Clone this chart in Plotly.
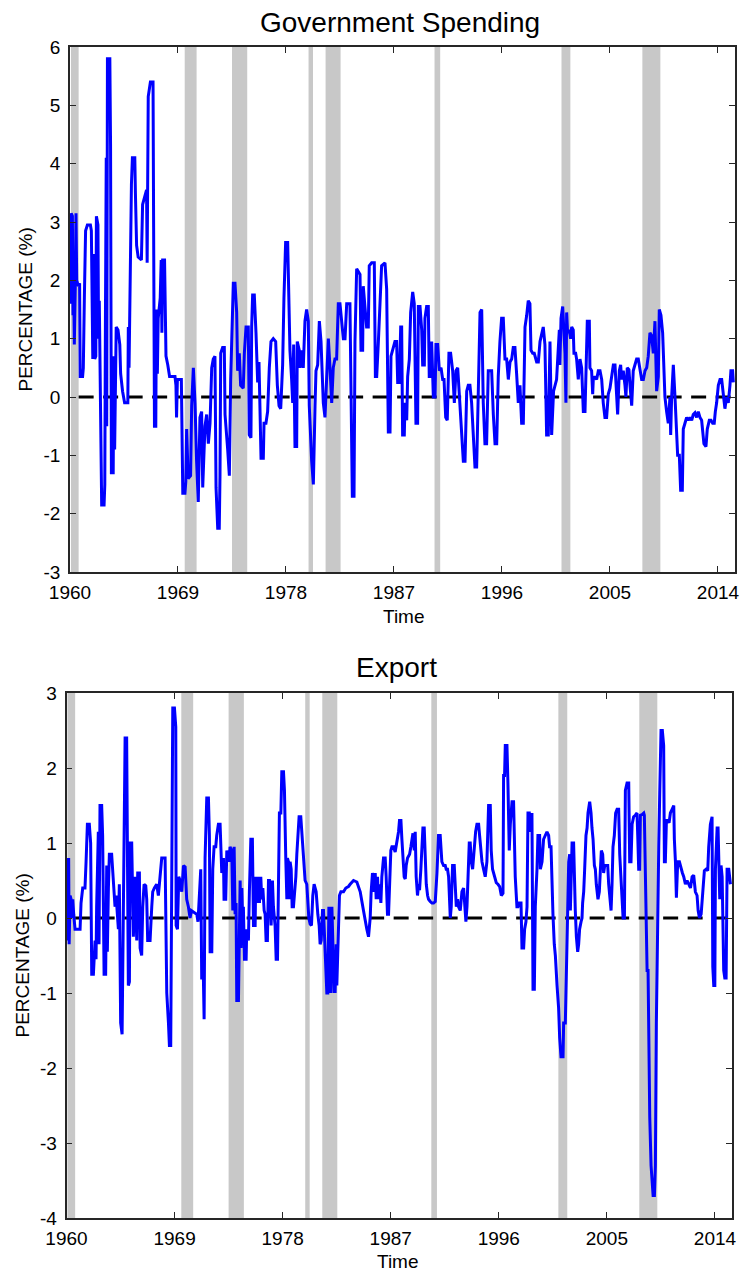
import plotly.graph_objects as go

# ---------------- data ----------------
gov_years = [1960.08,1960.10,1960.20,1960.25,1960.30,1960.36,1960.44,1960.50,1960.56,1960.70,1960.80,1960.85,1961.05,1961.11,1961.20,1961.30,1961.45,1961.70,1961.78,1961.82,1961.90,1962.00,1962.06,1962.15,1962.20,1962.33,1962.38,1962.44,1962.50,1962.57,1962.64,1962.84,1962.90,1962.95,1963.02,1963.06,1963.12,1963.32,1963.38,1963.45,1963.60,1963.65,1963.72,1963.85,1964.00,1964.15,1964.22,1964.38,1964.55,1964.82,1964.86,1964.92,1965.00,1965.12,1965.20,1965.40,1965.45,1965.55,1965.68,1965.95,1966.05,1966.25,1966.38,1966.43,1966.52,1966.70,1966.92,1966.97,1967.00,1967.04,1967.15,1967.20,1967.28,1967.35,1967.52,1967.60,1967.66,1967.72,1967.88,1967.93,1968.00,1968.15,1968.30,1968.75,1968.83,1968.88,1968.95,1969.28,1969.33,1969.40,1969.58,1969.65,1969.72,1969.85,1970.05,1970.14,1970.28,1970.42,1970.55,1970.69,1970.83,1970.97,1971.06,1971.25,1971.39,1971.53,1971.67,1971.81,1971.94,1972.08,1972.17,1972.31,1972.44,1972.50,1972.56,1972.72,1972.86,1972.92,1973.14,1973.28,1973.39,1973.47,1973.61,1973.75,1973.89,1973.97,1974.11,1974.22,1974.44,1974.53,1974.67,1974.86,1974.94,1975.08,1975.14,1975.22,1975.36,1975.50,1975.64,1975.75,1975.83,1975.92,1976.11,1976.17,1976.33,1976.47,1976.61,1976.75,1976.94,1977.14,1977.28,1977.42,1977.56,1977.72,1977.83,1977.97,1978.14,1978.22,1978.33,1978.47,1978.56,1978.64,1978.75,1978.89,1978.94,1979.11,1979.17,1979.31,1979.44,1979.58,1979.72,1979.86,1979.94,1980.14,1980.28,1980.42,1980.50,1980.64,1980.78,1980.92,1981.11,1981.25,1981.39,1981.53,1981.67,1981.81,1981.94,1982.08,1982.22,1982.36,1982.50,1982.64,1982.78,1982.92,1983.06,1983.33,1983.42,1983.53,1983.67,1983.75,1983.89,1984.17,1984.25,1984.39,1984.44,1984.58,1984.72,1984.86,1984.94,1985.14,1985.36,1985.45,1985.56,1985.70,1985.83,1985.97,1986.25,1986.39,1986.53,1986.67,1986.75,1986.89,1987.08,1987.22,1987.31,1987.44,1987.56,1987.64,1987.72,1987.86,1987.92,1988.06,1988.14,1988.28,1988.39,1988.56,1988.69,1988.83,1988.97,1989.03,1989.17,1989.31,1989.39,1989.53,1989.58,1989.72,1989.86,1989.94,1990.08,1990.14,1990.28,1990.42,1990.50,1990.64,1990.78,1990.92,1991.06,1991.17,1991.31,1991.44,1991.58,1991.72,1991.89,1992.03,1992.17,1992.31,1992.50,1992.64,1992.78,1992.92,1993.06,1993.19,1993.33,1993.47,1993.61,1993.75,1993.89,1994.03,1994.17,1994.31,1994.44,1994.58,1994.72,1994.86,1995.14,1995.28,1995.42,1995.56,1995.69,1995.83,1995.97,1996.11,1996.25,1996.39,1996.53,1996.67,1996.81,1996.94,1997.08,1997.22,1997.36,1997.50,1997.64,1997.78,1997.92,1998.06,1998.19,1998.33,1998.42,1998.56,1998.69,1998.89,1999.03,1999.17,1999.31,1999.44,1999.58,1999.72,1999.86,2000.00,2000.14,2000.30,2000.55,2000.78,2000.83,2000.92,2001.06,2001.17,2001.25,2001.33,2001.39,2001.47,2001.61,2001.72,2001.81,2001.94,2002.00,2002.14,2002.22,2002.36,2002.50,2002.64,2002.78,2002.92,2003.00,2003.11,2003.28,2003.33,2003.47,2003.56,2003.61,2003.75,2003.89,2004.03,2004.17,2004.31,2004.44,2004.58,2004.72,2004.86,2005.00,2005.14,2005.28,2005.42,2005.56,2005.64,2005.78,2005.89,2005.97,2006.11,2006.25,2006.33,2006.44,2006.58,2006.67,2006.81,2006.94,2007.08,2007.22,2007.36,2007.50,2007.64,2007.78,2007.92,2008.06,2008.19,2008.33,2008.47,2008.61,2008.75,2008.89,2009.03,2009.11,2009.25,2009.39,2009.50,2009.58,2009.72,2009.86,2010.00,2010.06,2010.14,2010.28,2010.42,2010.50,2010.56,2010.64,2010.78,2010.89,2011.03,2011.11,2011.25,2011.39,2011.53,2011.67,2011.81,2011.94,2012.08,2012.22,2012.36,2012.50,2012.64,2012.72,2012.83,2013.00,2013.11,2013.28,2013.42,2013.56,2013.69,2013.78,2013.89,2014.03,2014.17,2014.31,2014.44,2014.58,2014.72,2014.86,2015.00,2015.08,2015.22,2015.28]
gov_values = [1.6,3.15,3.1,1.4,2.0,0.9,1.9,3.15,2.0,1.9,1.95,0.35,0.35,0.5,1.75,2.85,2.95,2.95,2.85,1.4,0.65,2.45,0.65,0.7,3.1,2.95,1.0,1.65,0.55,-0.9,-1.85,-1.85,-1.5,1.2,4.1,-0.5,5.8,5.8,4.3,-1.3,-1.3,0.7,-0.9,1.2,1.15,0.9,0.4,0.1,-0.1,-0.1,1.2,0.5,2.3,3.65,4.1,4.1,3.5,2.6,2.4,2.35,3.3,3.45,3.55,2.3,5.15,5.4,5.4,2.9,1.45,-0.5,-0.5,1.5,0.4,1.35,1.7,2.35,1.1,2.35,2.35,1.1,0.7,0.55,0.35,0.35,0.2,-0.35,0.3,0.3,-0.8,-1.65,-1.65,-1.45,-0.55,-1.4,-1.35,-0.15,0.5,-0.1,-1.1,-1.8,-0.35,-0.25,-1.55,-0.5,-0.3,-0.8,-0.45,0.5,0.65,0.7,-1.55,-2.25,-2.25,-1.35,0.75,0.85,0.85,-0.3,-0.9,-1.35,0.3,1.1,1.95,1.95,1.45,0.45,0.75,0.2,0.15,0.75,1.2,1.2,-0.65,-0.7,1.2,1.75,1.75,1.1,0.25,0.6,-0.45,-1.05,-1.05,-0.45,-0.45,-0.25,0.5,0.95,1.0,0.95,0.2,-0.15,-0.2,0.55,1.7,2.65,2.65,1.6,0.8,0.3,-0.1,0.9,-0.85,-0.85,0.95,0.8,0.5,0.8,0.5,1.3,1.5,1.3,-0.15,-1.1,-1.5,-0.15,0.45,0.55,1.3,0.95,-0.1,-0.35,0.5,1.0,0.5,-0.1,0.5,0.65,0.65,1.6,1.6,1.3,1.0,1.0,1.6,1.6,-0.35,-1.7,-1.7,0.95,2.2,2.1,0.8,0.8,1.9,1.6,1.2,1.2,2.25,2.3,2.3,0.35,0.35,0.95,1.6,2.25,2.3,1.85,-0.6,-0.6,0.7,0.8,0.95,0.95,0.25,0.25,1.2,1.2,-0.65,-0.65,-0.1,-0.4,0.35,0.65,1.45,1.8,1.6,-0.45,-0.45,1.55,1.55,1.15,0.55,0.55,1.35,1.55,1.55,0.35,0.35,0.95,0.0,0.0,0.9,0.9,0.45,0.5,0.3,0.3,-0.35,-0.4,0.75,0.75,0.45,-0.1,0.45,0.5,-0.1,-0.7,-1.1,-1.1,0.1,0.2,0.2,-0.1,-0.7,-1.2,-1.2,0.35,1.45,1.5,-0.1,-0.8,-0.8,0.45,0.45,-0.3,-0.8,-0.8,0.35,0.95,1.35,1.35,0.65,0.65,0.3,0.6,0.65,0.85,0.85,0.4,-0.1,0.2,-0.45,-0.45,1.2,1.4,1.65,1.6,0.8,0.75,0.75,0.6,0.6,0.95,1.1,1.2,0.9,-0.65,-0.65,0.95,-0.65,0.1,0.3,1.15,0.55,1.35,1.55,1.15,0.75,-0.1,1.45,1.1,1.15,1.0,1.2,1.15,0.75,0.75,0.65,0.3,0.65,0.5,-0.25,-0.25,0.45,1.3,1.3,0.5,0.45,0.05,0.3,0.35,0.3,0.45,0.45,0.3,-0.1,-0.35,-0.35,0.05,0.15,0.35,0.55,0.55,-0.1,-0.3,0.45,0.55,0.3,0.45,0.2,0.0,0.5,0.47,0.2,-0.15,0.45,0.55,0.65,0.65,0.5,0.3,0.3,0.45,0.5,0.7,1.1,1.05,0.75,1.3,0.1,0.35,1.5,1.4,1.1,0.35,0.0,-0.25,-0.45,0.0,-0.65,0.0,0.55,0.0,-0.3,-0.65,-1.0,-1.0,-1.6,-1.6,-0.55,-0.45,-0.35,-0.4,-0.35,-0.4,-0.3,-0.27,-0.35,-0.25,-0.35,-0.4,-0.65,-0.8,-0.85,-0.55,-0.4,-0.4,-0.45,-0.45,-0.25,-0.1,0.2,0.3,0.3,0.05,-0.2,0.0,-0.1,0.2,0.45,0.45,0.25]

exp_years = [1960.08,1960.12,1960.18,1960.22,1960.30,1960.38,1960.45,1960.52,1960.60,1960.71,1961.13,1961.21,1961.35,1961.54,1961.63,1961.74,1961.90,1962.01,1962.10,1962.24,1962.38,1962.46,1962.51,1962.57,1962.65,1962.71,1962.79,1962.93,1963.01,1963.13,1963.26,1963.35,1963.40,1963.49,1963.57,1963.76,1963.90,1964.04,1964.13,1964.24,1964.32,1964.40,1964.51,1964.63,1964.74,1964.79,1964.88,1965.01,1965.07,1965.15,1965.24,1965.29,1965.43,1965.51,1965.57,1965.71,1965.85,1965.93,1966.07,1966.13,1966.26,1966.35,1966.46,1966.60,1966.68,1966.76,1966.96,1967.10,1967.18,1967.32,1967.51,1967.65,1967.79,1967.93,1968.21,1968.29,1968.35,1968.49,1968.57,1968.68,1968.76,1968.85,1968.99,1969.10,1969.13,1969.24,1969.35,1969.46,1969.60,1969.74,1969.88,1970.01,1970.15,1970.29,1970.40,1970.60,1970.85,1970.95,1971.07,1971.18,1971.26,1971.40,1971.46,1971.54,1971.68,1971.82,1971.90,1971.96,1972.10,1972.18,1972.29,1972.43,1972.51,1972.65,1972.79,1972.93,1973.07,1973.12,1973.26,1973.35,1973.54,1973.62,1973.76,1973.85,1973.96,1974.04,1974.12,1974.18,1974.32,1974.46,1974.54,1974.60,1974.68,1974.73,1974.82,1974.96,1975.01,1975.15,1975.23,1975.35,1975.48,1975.57,1975.71,1975.76,1975.85,1975.98,1976.07,1976.18,1976.26,1976.35,1976.46,1976.54,1976.62,1976.73,1976.82,1976.90,1976.96,1977.04,1977.15,1977.23,1977.37,1977.46,1977.57,1977.65,1977.73,1977.85,1977.93,1978.07,1978.15,1978.26,1978.35,1978.40,1978.48,1978.57,1978.62,1978.71,1978.79,1978.90,1978.98,1979.10,1979.18,1979.26,1979.37,1979.51,1979.60,1979.68,1979.79,1979.87,1980.01,1980.10,1980.18,1980.29,1980.40,1980.51,1980.62,1980.79,1980.85,1980.93,1981.04,1981.12,1981.21,1981.32,1981.40,1981.48,1981.54,1981.62,1981.68,1981.76,1981.85,1981.96,1982.01,1982.10,1982.18,1982.29,1982.37,1982.46,1982.51,1982.60,1982.65,1982.73,1982.85,1983.07,1983.26,1983.48,1983.62,1983.90,1984.18,1984.46,1984.73,1984.87,1985.01,1985.15,1985.29,1985.37,1985.48,1985.62,1985.71,1985.79,1985.90,1985.98,1986.07,1986.18,1986.26,1986.40,1986.54,1986.62,1986.73,1986.82,1986.90,1987.01,1987.10,1987.23,1987.37,1987.51,1987.65,1987.73,1987.85,1987.93,1988.01,1988.12,1988.21,1988.29,1988.40,1988.57,1988.68,1988.76,1988.85,1988.96,1989.04,1989.12,1989.23,1989.32,1989.40,1989.51,1989.60,1989.68,1989.79,1989.87,1989.96,1990.07,1990.15,1990.29,1990.43,1990.57,1990.71,1990.85,1990.98,1991.12,1991.18,1991.26,1991.40,1991.54,1991.62,1991.73,1991.82,1991.90,1991.96,1992.04,1992.15,1992.29,1992.37,1992.46,1992.57,1992.65,1992.79,1992.93,1993.07,1993.15,1993.26,1993.35,1993.43,1993.54,1993.62,1993.71,1993.82,1993.96,1994.07,1994.18,1994.32,1994.40,1994.51,1994.60,1994.73,1994.87,1995.01,1995.15,1995.29,1995.37,1995.48,1995.62,1995.79,1995.93,1996.07,1996.21,1996.35,1996.40,1996.48,1996.54,1996.68,1996.76,1996.87,1996.96,1997.10,1997.23,1997.29,1997.37,1997.51,1997.60,1997.71,1997.85,1997.93,1998.07,1998.15,1998.26,1998.35,1998.43,1998.54,1998.62,1998.76,1998.85,1998.96,1999.04,1999.18,1999.26,1999.40,1999.46,1999.60,1999.73,1999.87,2000.01,2000.15,2000.23,2000.35,2000.43,2000.51,2000.62,2000.71,2000.85,2000.90,2000.98,2001.07,2001.18,2001.35,2001.40,2001.54,2001.62,2001.73,2001.82,2001.90,2001.96,2002.01,2002.10,2002.23,2002.29,2002.37,2002.46,2002.57,2002.65,2002.73,2002.85,2002.93,2002.98,2003.07,2003.15,2003.26,2003.35,2003.43,2003.57,2003.68,2003.76,2003.85,2003.96,2004.04,2004.12,2004.26,2004.37,2004.46,2004.54,2004.65,2004.73,2004.82,2004.96,2005.07,2005.15,2005.23,2005.35,2005.43,2005.51,2005.62,2005.73,2005.85,2005.98,2006.07,2006.18,2006.26,2006.35,2006.46,2006.54,2006.68,2006.82,2006.90,2007.01,2007.10,2007.23,2007.37,2007.51,2007.57,2007.65,2007.73,2007.79,2007.93,2008.07,2008.12,2008.21,2008.26,2008.35,2008.43,2008.48,2008.57,2008.68,2008.85,2008.96,2009.04,2009.12,2009.23,2009.32,2009.40,2009.51,2009.62,2009.73,2009.79,2009.87,2009.96,2010.07,2010.18,2010.29,2010.43,2010.57,2010.62,2010.71,2010.79,2010.90,2011.04,2011.18,2011.29,2011.40,2011.54,2011.68,2011.82,2011.96,2012.10,2012.23,2012.37,2012.51,2012.60,2012.71,2012.85,2012.93,2013.01,2013.12,2013.26,2013.40,2013.48,2013.62,2013.76,2013.82,2013.90,2013.99,2014.04,2014.18,2014.26,2014.32,2014.40,2014.51,2014.60,2014.73,2014.82,2014.93,2015.01,2015.15,2015.29]
exp_values = [0.8,-0.3,0.8,-0.35,0.3,0.25,0.0,0.25,0.05,-0.15,-0.15,0.2,0.4,0.4,0.75,1.25,1.25,1.0,-0.75,-0.75,-0.3,-0.55,0.15,0.55,1.15,-0.35,1.5,1.5,1.1,-0.75,-0.75,0.7,-0.45,0.4,0.85,0.85,0.45,0.15,0.3,-0.05,-0.15,0.45,-1.4,-1.55,0.75,1.65,2.4,2.4,1.15,-0.9,-0.85,1.0,1.0,0.15,-0.25,0.55,-0.3,0.6,0.6,-0.4,-0.5,0.15,0.45,0.43,0.25,-0.3,-0.3,0.15,0.35,0.4,0.45,0.3,0.55,0.8,0.8,-0.15,-1.0,-1.4,-1.7,-1.7,0.8,2.8,2.8,2.55,-0.1,-0.15,0.55,0.5,0.35,0.7,0.68,0.25,0.15,0.0,0.1,0.08,0.05,-0.05,0.45,0.65,-0.8,-0.8,-1.35,0.8,1.6,1.6,1.1,-0.45,-0.45,0.65,0.95,0.95,1.1,1.25,1.25,0.6,0.8,0.25,0.25,0.9,0.75,0.95,0.9,0.1,0.95,0.05,0.2,-1.1,-1.1,0.5,-0.4,0.4,-0.1,0.15,-0.55,-0.55,-0.15,-0.3,0.35,1.05,1.05,-0.1,-0.1,0.55,0.2,0.55,0.2,0.55,0.25,0.4,0.1,0.05,-0.3,-0.3,0.5,0.5,0.25,-0.1,0.5,0.15,-0.1,-0.55,-0.55,0.6,1.4,1.4,1.95,1.95,1.7,0.8,0.25,0.8,0.75,0.25,0.75,0.65,0.15,0.15,0.3,0.55,0.85,1.15,1.35,1.35,1.15,0.95,0.6,0.5,0.45,0.15,0.0,-0.08,-0.1,0.3,0.45,0.35,0.2,0.05,-0.1,-0.35,-0.3,0.1,0.1,-0.3,-0.45,-0.8,-1.0,-1.0,0.15,-0.8,-1.0,0.15,-0.35,-0.98,-0.98,-0.35,-0.9,-0.35,0.05,0.3,0.35,0.35,0.4,0.42,0.45,0.5,0.48,0.35,0.1,-0.05,-0.15,-0.25,0.0,0.35,0.6,0.35,0.6,0.25,0.55,0.25,0.45,0.2,0.55,0.8,0.8,0.55,0.05,0.05,0.55,0.9,0.95,0.95,0.88,1.0,1.15,1.3,1.3,1.05,0.8,0.55,0.52,0.7,0.8,0.85,0.95,1.05,1.13,0.9,1.15,0.55,0.3,0.45,0.37,0.65,0.9,1.2,1.2,0.85,0.45,0.3,0.25,0.22,0.2,0.2,0.22,0.6,1.1,1.1,0.9,0.75,0.7,0.7,0.65,0.65,0.55,0.25,0.0,0.15,0.7,0.7,0.35,0.15,0.25,0.15,0.1,0.35,0.4,0.15,-0.05,0.15,0.6,1.0,1.0,0.75,0.65,0.95,1.15,1.25,1.25,1.1,0.9,0.75,0.65,0.55,0.75,1.5,1.5,0.9,0.65,0.55,0.47,0.45,0.42,0.3,0.33,1.9,1.9,2.3,2.3,1.8,0.9,1.25,1.55,1.55,1.05,0.55,0.15,0.15,0.2,0.2,-0.4,-0.4,-0.15,-0.05,0.15,1.4,1.4,1.15,1.4,-0.95,-0.95,0.15,0.65,1.1,1.1,0.65,0.75,1.05,1.1,1.15,1.1,0.95,0.95,0.25,0.05,-0.35,-0.5,-0.9,-1.0,-1.2,-1.6,-1.85,-1.85,-1.4,-1.4,-0.9,0.05,0.75,0.85,0.1,0.5,1.0,1.0,0.55,0.1,-0.25,-0.45,-0.35,-0.15,-0.05,0.0,0.2,0.35,0.65,1.1,1.2,1.4,1.55,1.4,1.2,1.05,0.7,0.65,0.45,0.25,0.35,0.75,0.9,0.85,0.6,0.7,0.7,0.7,0.45,0.25,0.1,0.45,0.95,1.1,1.4,1.45,1.45,0.85,0.45,0.15,0.0,0.0,1.7,1.8,1.8,0.75,0.75,1.25,1.35,1.37,1.4,1.1,0.65,0.65,1.37,1.38,1.4,1.37,0.65,0.3,-0.7,-0.7,-1.75,-2.65,-3.3,-3.7,-3.7,-3.3,-1.4,0.25,0.95,1.65,2.5,2.5,2.3,0.75,0.75,1.3,1.3,1.27,1.4,1.45,1.5,1.05,0.75,0.27,0.75,0.75,0.65,0.6,0.55,0.45,0.5,0.45,0.4,0.55,0.57,0.35,0.3,0.1,0.0,0.05,0.2,0.4,0.63,0.65,0.63,0.95,1.25,1.35,-0.65,-0.9,-0.9,0.65,1.2,1.2,0.5,0.25,0.7,0.55,-0.7,-0.8,-0.8,0.65,0.65,0.45]

recession_starts = [1960.08, 1969.56, 1973.50, 1979.88, 1981.30, 1990.38, 2000.96, 2007.70]
recession_ends   = [1960.72, 1970.55, 1974.77, 1980.25, 1982.55, 1990.85, 2001.70, 2009.20]

tick_years = [1960, 1969, 1978, 1987, 1996, 2005, 2014]
tick_labels = [str(y) for y in tick_years]
gov_yticks = [-3, -2, -1, 0, 1, 2, 3, 4, 5, 6]
exp_yticks = [-4, -3, -2, -1, 0, 1, 2, 3]
gov_ytick_labels = [str(v) for v in gov_yticks]   # plain hyphen-minus as in the reference
exp_ytick_labels = [str(v) for v in exp_yticks]
x_range = [1960, 2015.42]
gov_yrange = [-3, 6]
exp_yrange = [-4, 3]

titles = ["Government Spending", "Export"]
y_title = "PERCENTAGE (%)"
x_title = "Time"

# ---------------- figure ----------------
W, H = 741, 1276
FONT = "Arial, Liberation Sans, sans-serif"
AXC = "#262626"

def px_x(p):
    return p / W

def px_y(p):
    return 1 - p / H

# plot boxes in pixels (left, right, top, bottom)
box1 = (70, 735, 47, 572)
box2 = (66.5, 732, 693, 1218)

fig = go.Figure()
fig.add_trace(go.Scatter(x=gov_years, y=gov_values, mode="lines",
                         line=dict(color="#0000FF", width=3), xaxis="x", yaxis="y",
                         showlegend=False, hoverinfo="skip"))
fig.add_trace(go.Scatter(x=exp_years, y=exp_values, mode="lines",
                         line=dict(color="#0000FF", width=3), xaxis="x2", yaxis="y2",
                         showlegend=False, hoverinfo="skip"))

def axis_common():
    return dict(showline=True, linecolor=AXC, linewidth=1.5, mirror="ticks",
                ticks="inside", ticklen=6, tickwidth=1, tickcolor=AXC,
                showgrid=False, zeroline=False, automargin=False,
                tickfont=dict(family=FONT, size=19, color="#000000"))

xa1 = axis_common(); xa1.update(domain=[px_x(box1[0]), px_x(box1[1])], range=x_range,
                                tickvals=tick_years, ticktext=tick_labels, anchor="y",
                                ticklabelstandoff=2)
ya1 = axis_common(); ya1.update(domain=[px_y(box1[3]), px_y(box1[2])], range=gov_yrange,
                                tickvals=gov_yticks, ticktext=gov_ytick_labels,
                                anchor="x", ticklabelstandoff=4)
xa2 = axis_common(); xa2.update(domain=[px_x(box2[0]), px_x(box2[1])], range=x_range,
                                tickvals=tick_years, ticktext=tick_labels, anchor="y2",
                                ticklabelstandoff=2)
ya2 = axis_common(); ya2.update(domain=[px_y(box2[3]), px_y(box2[2])], range=exp_yrange,
                                tickvals=exp_yticks, ticktext=exp_ytick_labels,
                                anchor="x2", ticklabelstandoff=4)

shapes = []
for xr, yr in (("x", "y"), ("x2", "y2")):
    for s, e in zip(recession_starts, recession_ends):
        shapes.append(dict(type="rect", xref=xr, yref=yr + " domain", x0=s, x1=e, y0=0, y1=1,
                           fillcolor="#C8C8C8", line=dict(width=0), layer="below"))
    shapes.append(dict(type="line", xref=xr, yref=yr, x0=recession_ends[0], x1=x_range[1],
                       y0=0, y1=0, line=dict(color="#000000", width=3, dash="15px,9.5px"),
                       layer="below"))

annotations = [
    dict(text=titles[0], xref="paper", yref="paper", x=px_x(400), y=px_y(22),
         showarrow=False, xanchor="center", yanchor="middle",
         font=dict(family=FONT, size=28, color="#000000")),
    dict(text=titles[1], xref="paper", yref="paper", x=px_x(397), y=px_y(667),
         showarrow=False, xanchor="center", yanchor="middle",
         font=dict(family=FONT, size=28, color="#000000")),
    dict(text=x_title, xref="paper", yref="paper", x=px_x(404), y=px_y(616),
         showarrow=False, xanchor="center", yanchor="middle",
         font=dict(family=FONT, size=19, color="#000000")),
    dict(text=x_title, xref="paper", yref="paper", x=px_x(398), y=px_y(1261),
         showarrow=False, xanchor="center", yanchor="middle",
         font=dict(family=FONT, size=19, color="#000000")),
    dict(text=y_title, xref="paper", yref="paper", x=px_x(25), y=px_y((box1[2] + box1[3]) / 2),
         showarrow=False, xanchor="center", yanchor="middle", textangle=-90,
         font=dict(family=FONT, size=19, color="#000000")),
    dict(text=y_title, xref="paper", yref="paper", x=px_x(22), y=px_y((box2[2] + box2[3]) / 2),
         showarrow=False, xanchor="center", yanchor="middle", textangle=-90,
         font=dict(family=FONT, size=19, color="#000000")),
]

fig.update_layout(width=W, height=H, margin=dict(l=0, r=0, t=0, b=0),
                  paper_bgcolor="#FFFFFF", plot_bgcolor="#FFFFFF",
                  xaxis=xa1, yaxis=ya1, xaxis2=xa2, yaxis2=ya2,
                  shapes=shapes, annotations=annotations, showlegend=False)

fig.write_html("out.html")
